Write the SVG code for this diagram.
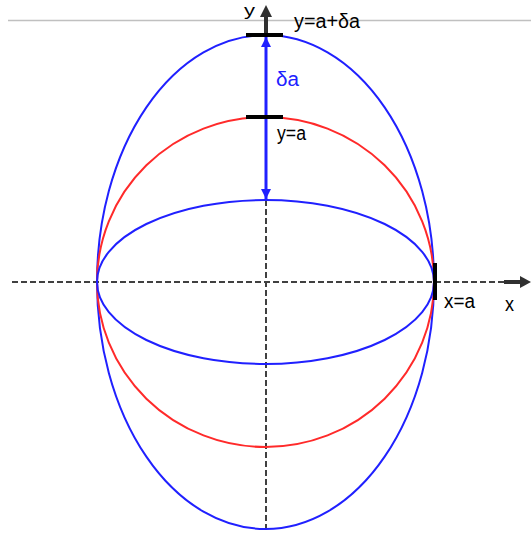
<svg xmlns="http://www.w3.org/2000/svg" width="531" height="542" viewBox="0 0 531 542">
<style>
.axis{stroke:#404040;stroke-width:2;stroke-dasharray:6 3;fill:none}
.blue{stroke:#2020ff;stroke-width:2;fill:none}
.red{stroke:#ff2a2a;stroke-width:2;fill:none}
.tick{stroke:#000;stroke-width:4}
.lbl{font-family:"Liberation Sans",Arial,sans-serif;font-size:20px;fill:#000}
</style>
<defs>
<marker id="ab" viewBox="0 0 10 10" refX="10" refY="5" markerWidth="10" markerHeight="10" markerUnits="userSpaceOnUse" orient="auto-start-reverse">
<path d="M0,0 L10,5 L0,10 z" fill="#2020ff"/>
</marker>
</defs>
<rect width="531" height="542" fill="#fff"/>
<line x1="8" y1="20.5" x2="531" y2="20.5" stroke="#c0c0c0" stroke-width="1.3"/>
<g id="connectors">
<line class="axis" x1="12" y1="282" x2="505" y2="282"/>
<line class="axis" x1="266" y1="200" x2="266" y2="528"/>
<line x1="504" y1="282" x2="521" y2="282" stroke="#303030" stroke-width="4"/>
<path d="M520,276 L531,282 L520,288 z" fill="#303030"/>
<line x1="266" y1="35" x2="266" y2="16" stroke="#303030" stroke-width="4"/>
<path d="M260,17 L266,5 L272,17 z" fill="#303030"/>
<line x1="266" y1="37" x2="266" y2="199" stroke="#2020ff" stroke-width="3" marker-start="url(#ab)" marker-end="url(#ab)"/>
</g>
<g id="outer-ellipse"><ellipse class="blue" cx="265.5" cy="282" rx="168.5" ry="247"/></g>
<g id="circle"><ellipse class="red" cx="265.5" cy="282" rx="168.5" ry="165"/></g>
<g id="inner-ellipse"><ellipse class="blue" cx="265.5" cy="282" rx="168.5" ry="82"/></g>
<g id="ticks">
<line class="tick" x1="246" y1="35" x2="283" y2="35"/>
<line class="tick" x1="246" y1="117" x2="283" y2="117"/>
<line class="tick" x1="435" y1="263" x2="435" y2="300"/>
</g>
<g id="labels">
<text class="lbl" x="244" y="16" textLength="11" lengthAdjust="spacingAndGlyphs" style="font-size:17px">y</text>
<text class="lbl" x="294" y="28" textLength="66" lengthAdjust="spacingAndGlyphs">y=a+δa</text>
<text class="lbl" x="276" y="86" textLength="23" lengthAdjust="spacingAndGlyphs" style="fill:#2020ff">δa</text>
<text class="lbl" x="277" y="140" textLength="29" lengthAdjust="spacingAndGlyphs">y=a</text>
<text class="lbl" x="444" y="308" textLength="31" lengthAdjust="spacingAndGlyphs">x=a</text>
<text class="lbl" x="505" y="311" textLength="9" lengthAdjust="spacingAndGlyphs">x</text>
</g>
</svg>
